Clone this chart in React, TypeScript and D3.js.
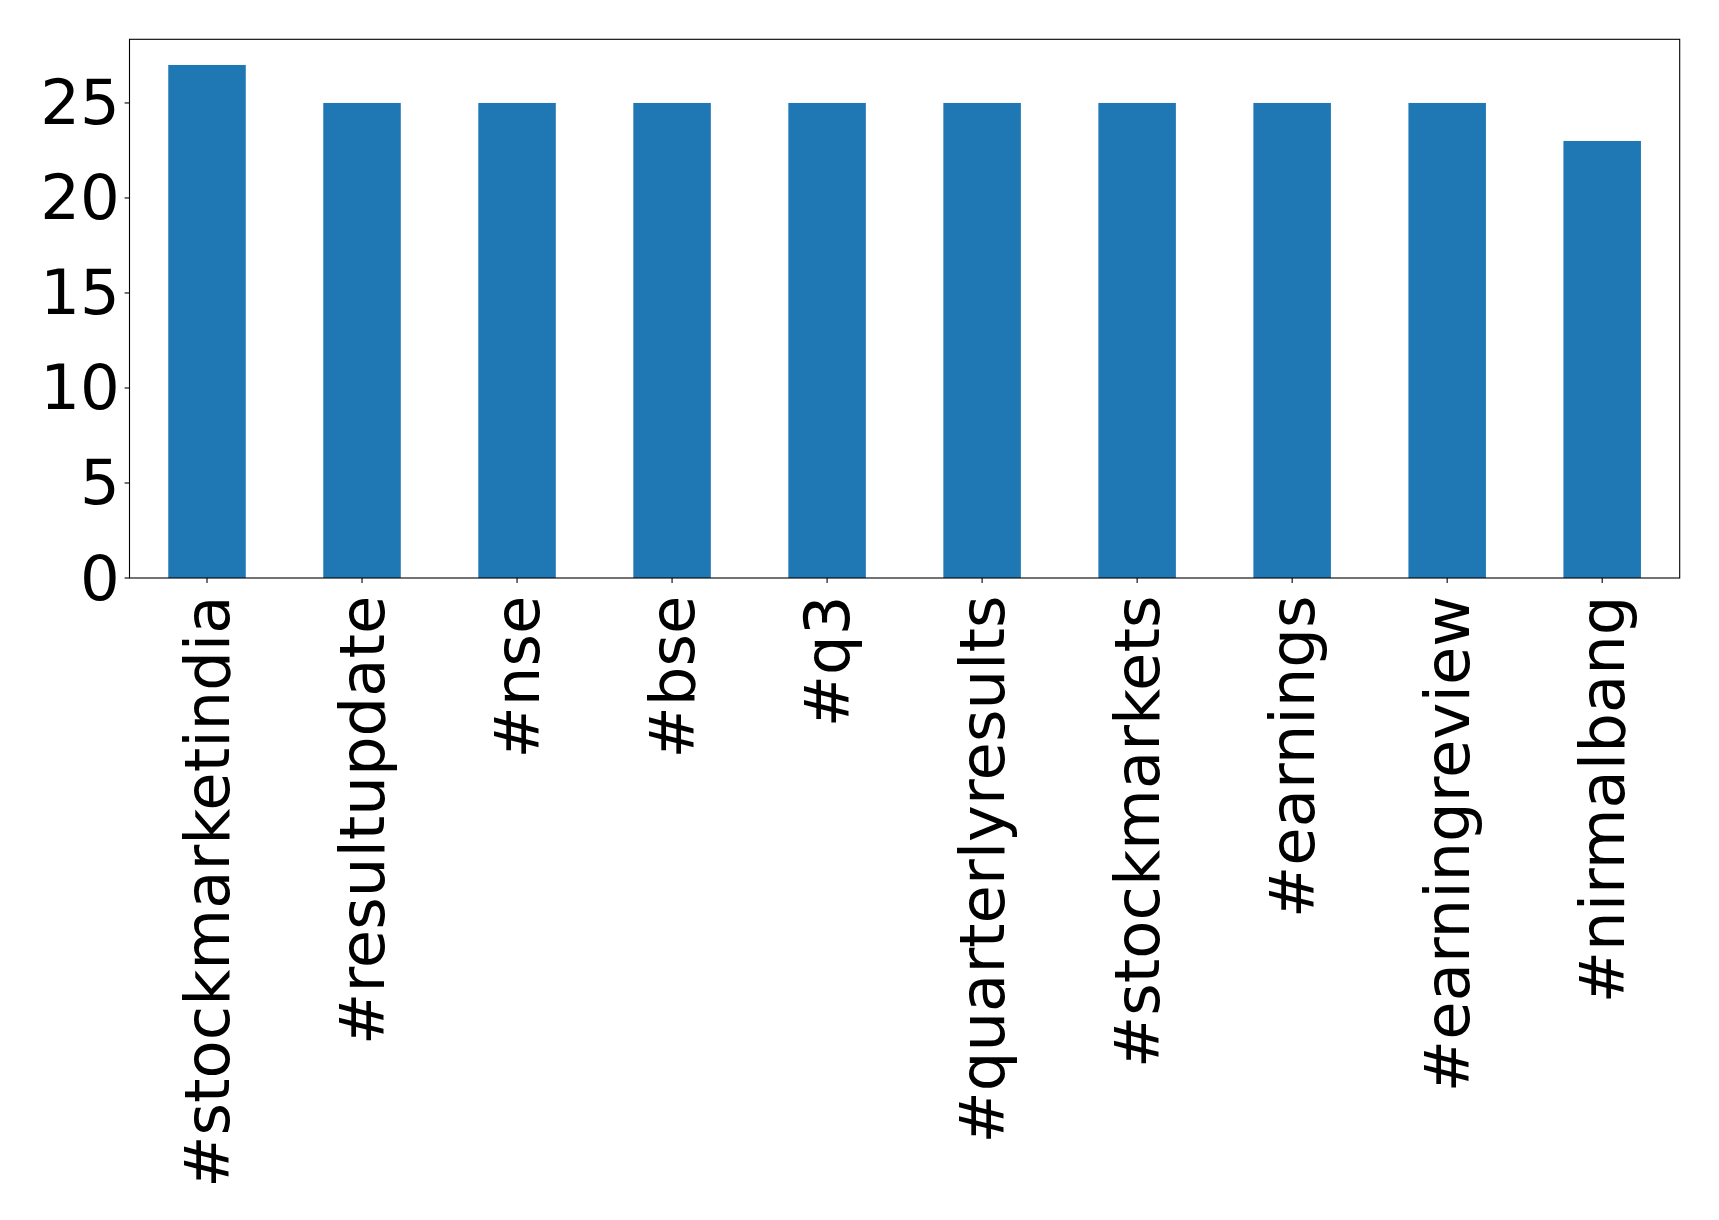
import React from "react";
import * as d3 from "d3";

const categories = [
  "#stockmarketindia",
  "#resultupdate",
  "#nse",
  "#bse",
  "#q3",
  "#quarterlyresults",
  "#stockmarkets",
  "#earnings",
  "#earningreview",
  "#nirmalbang",
];
const counts = [27, 25, 25, 25, 25, 25, 25, 25, 25, 23];
const yTicks = [0, 5, 10, 15, 20, 25];

const W = 1719;
const H = 1220;
const left = 129.5;
const right = 1679.7;
const top = 39.3;
const bottom = 578;
const FONT = "DejaVu Sans";
const FS = 62.5;

export default function App() {
  const x = d3
    .scaleBand<string>()
    .domain(categories)
    .range([left, right])
    .paddingInner(0.5)
    .paddingOuter(0.25);
  const yMax = d3.max(counts)! * 1.05;
  const y = d3.scaleLinear().domain([0, yMax]).range([bottom, top]);
  const tickLen = 4.9;
  const pad = 4.9;

  return (
    <svg
      width={W}
      height={H}
      style={{ position: "absolute", left: 0, top: 0, background: "#fff" }}
      fontFamily={FONT}
    >
      <rect x={0} y={0} width={W} height={H} fill="#fff" />
      {categories.map((c, i) => (
        <rect
          key={c}
          x={x(c)}
          y={y(counts[i])}
          width={x.bandwidth()}
          height={bottom - y(counts[i])}
          fill="#1f77b4"
        />
      ))}
      <rect
        x={left}
        y={top}
        width={right - left}
        height={bottom - top}
        fill="none"
        stroke="#000"
        strokeWidth={1.1}
      />
      {yTicks.map((t) => (
        <g key={t}>
          <line
            x1={left - tickLen}
            x2={left}
            y1={y(t)}
            y2={y(t)}
            stroke="#000"
            strokeWidth={1.1}
          />
          <text
            x={left - tickLen - pad}
            y={y(t)}
            textAnchor="end"
            dominantBaseline="central"
            fontSize={FS}
            fill="#000"
          >
            {t}
          </text>
        </g>
      ))}
      {categories.map((c) => {
        const cx = x(c)! + x.bandwidth() / 2;
        const ty = 595.5;
        return (
          <g key={c}>
            <line
              x1={cx}
              x2={cx}
              y1={bottom}
              y2={bottom + tickLen}
              stroke="#000"
              strokeWidth={1.1}
            />
            <text
              transform={`translate(${cx},${ty}) rotate(-90)`}
              textAnchor="end"
              dominantBaseline="central"
              fontSize={FS}
              fill="#000"
            >
              {c}
            </text>
          </g>
        );
      })}
    </svg>
  );
}
